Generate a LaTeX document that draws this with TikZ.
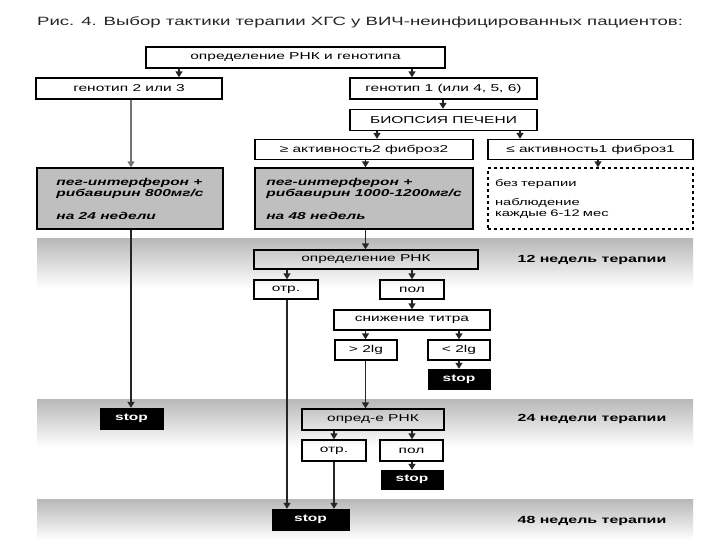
\documentclass[tikz,border=0pt]{standalone}
\usepackage{fontspec}
\setmainfont{Liberation Sans}[FakeStretch=1.55]
\usetikzlibrary{arrows.meta}
\definecolor{boxgray}{gray}{0.75}
\begin{document}
\begin{tikzpicture}[x=1pt,y=-1pt,
  box/.style={draw, line width=1.3pt, inner sep=0pt, font=\fontsize{10}{11.5}\selectfont},
  stopbox/.style={fill=black, draw=black, text=white, inner sep=0pt, font=\bfseries\fontsize{10}{11.5}\selectfont},
  drugbox/.style={draw, line width=1.3pt, fill=boxgray, inner xsep=6pt, inner ysep=0pt, align=left, font=\bfseries\itshape\fontsize{10}{11}\selectfont},
  notebox/.style={draw, line width=1.3pt, dashed, fill=white, inner xsep=7pt, inner ysep=0pt, align=left, font=\fontsize{9.5}{10.5}\selectfont},
  lab/.style={font=\bfseries\fontsize{10.3}{12}\selectfont},
  arr/.style={-{Triangle[length=6pt,width=7pt]}, line width=1.4pt, draw=black!85},
  grayarr/.style={arr, draw=black!55},
  band/.style={top color=black!28, bottom color=white}
]
\useasboundingbox (0,0) rectangle (720,540);
\fill[white] (0,0) rectangle (720,540);

% bands
\shade[band] (37,238) rectangle (693,288);
\shade[band] (37,399) rectangle (693,447);
\shade[band] (37,499) rectangle (693,540);

% title
\node[font=\fontsize{12}{14}\selectfont, text=black!85] (title) at (360,22) {Рис. 4. Выбор тактики терапии ХГС у ВИЧ-неинфицированных пациентов:};

% nodes
\node[box, minimum width=299, minimum height=21] (b1) at (295.5,57.5) {определение РНК и генотипа};
\node[box, minimum width=186, minimum height=21] (g23) at (129,88.5) {генотип 2 или 3};
\node[box, minimum width=187, minimum height=21] (g1) at (443.5,88.5) {генотип 1 (или 4, 5, 6)};
\node[box, minimum width=187, minimum height=21] (bio) at (443.5,120) {БИОПСИЯ ПЕЧЕНИ};
\node[box, minimum width=218, minimum height=20] (act2) at (364,149.5) {≥ активность2 фиброз2};
\node[box, minimum width=205, minimum height=20] (act1) at (590.5,149.5) {≤ активность1 фиброз1};

\node[drugbox, minimum width=186, minimum height=61] (grayL) at (130,198.5) {пег-интерферон +\\рибавирин 800мг/с\\[12pt]на 24 недели};
\node[drugbox, minimum width=218, minimum height=61] (grayM) at (364,198.5) {пег-интерферон +\\рибавирин 1000-1200мг/с\\[12pt]на 48 недель};
\node[notebox, text width=191, minimum height=61] (dash) at (590.5,198.5) {без терапии\\[9pt]наблюдение\\каждые 6-12 мес};

\node[box, minimum width=224, minimum height=19] (rnk1) at (366,259.5) {определение РНК};
\node[box, minimum width=64, minimum height=19] (otr1) at (286,289.5) {отр.};
\node[box, minimum width=64, minimum height=19] (pol1) at (412,289.5) {пол};
\node[box, minimum width=156, minimum height=20] (snij) at (412,320) {снижение титра};
\node[box, minimum width=62, minimum height=20] (gt) at (366,350) {> 2lg};
\node[box, minimum width=62, minimum height=20] (lt) at (459,350) {< 2lg};
\node[stopbox, minimum width=62, minimum height=20] (stop1) at (459,379) {stop};

\node[stopbox, minimum width=63, minimum height=21] (stopL) at (131.5,418.5) {stop};
\node[box, minimum width=142, minimum height=21] (rnk2) at (373,419.5) {опред-е РНК};
\node[box, minimum width=64, minimum height=21] (otr2) at (334,450.5) {отр.};
\node[box, minimum width=63, minimum height=21] (pol2) at (411.5,450.5) {пол};
\node[stopbox, minimum width=62, minimum height=19] (stop2) at (412,479.5) {stop};
\node[stopbox, minimum width=77, minimum height=21] (stopB) at (310.5,519.5) {stop};

% labels
\node[lab] (l12) at (592,260) {12 недель терапии};
\node[lab] (l24) at (592,419) {24 недели терапии};
\node[lab] (l48) at (592,521) {48 недель терапии};

% x positions of connectors
\coordinate (v131) at (131,0);
\coordinate (v179) at (179,0);
\coordinate (v287) at (287,0);
\coordinate (v334) at (334,0);
\coordinate (v365) at (365.5,0);
\coordinate (v377) at (377,0);
\coordinate (v412) at (412,0);
\coordinate (v443) at (443,0);
\coordinate (v459) at (459,0);
\coordinate (v520) at (520,0);
\coordinate (v598) at (598,0);

% connectors
\draw[arr] (b1.south -| v179) -- (g23.north -| v179);
\draw[arr] (b1.south -| v412) -- (g1.north -| v412);
\draw[arr] (g1.south -| v443) -- (bio.north -| v443);
\draw[arr] (bio.south -| v377) -- (act2.north -| v377);
\draw[arr] (bio.south -| v520) -- (act1.north -| v520);
\draw[arr] (act2.south -| v365) -- (grayM.north -| v365);
\draw[arr] (act1.south -| v598) -- (dash.north -| v598);
\draw[grayarr] (g23.south -| v131) -- (grayL.north -| v131);
\draw[arr] (grayL.south -| v131) -- (stopL.north -| v131);
\draw[arr] (grayM.south -| v365) -- (rnk1.north -| v365);
\draw[arr] (rnk1.south -| v287) -- (otr1.north -| v287);
\draw[arr] (rnk1.south -| v412) -- (pol1.north -| v412);
\draw[arr] (pol1.south -| v412) -- (snij.north -| v412);
\draw[arr] (snij.south -| v365) -- (gt.north -| v365);
\draw[arr] (snij.south -| v459) -- (lt.north -| v459);
\draw[arr] (lt.south -| v459) -- (stop1.north -| v459);
\draw[arr] (gt.south -| v365) -- (rnk2.north -| v365);
\draw[arr] (rnk2.south -| v334) -- (otr2.north -| v334);
\draw[arr] (rnk2.south -| v412) -- (pol2.north -| v412);
\draw[arr] (pol2.south -| v412) -- (stop2.north -| v412);
\draw[arr] (otr1.south -| v287) -- (stopB.north -| v287);
\draw[arr] (otr2.south -| v334) -- (stopB.north -| v334);
\end{tikzpicture}
\end{document}
